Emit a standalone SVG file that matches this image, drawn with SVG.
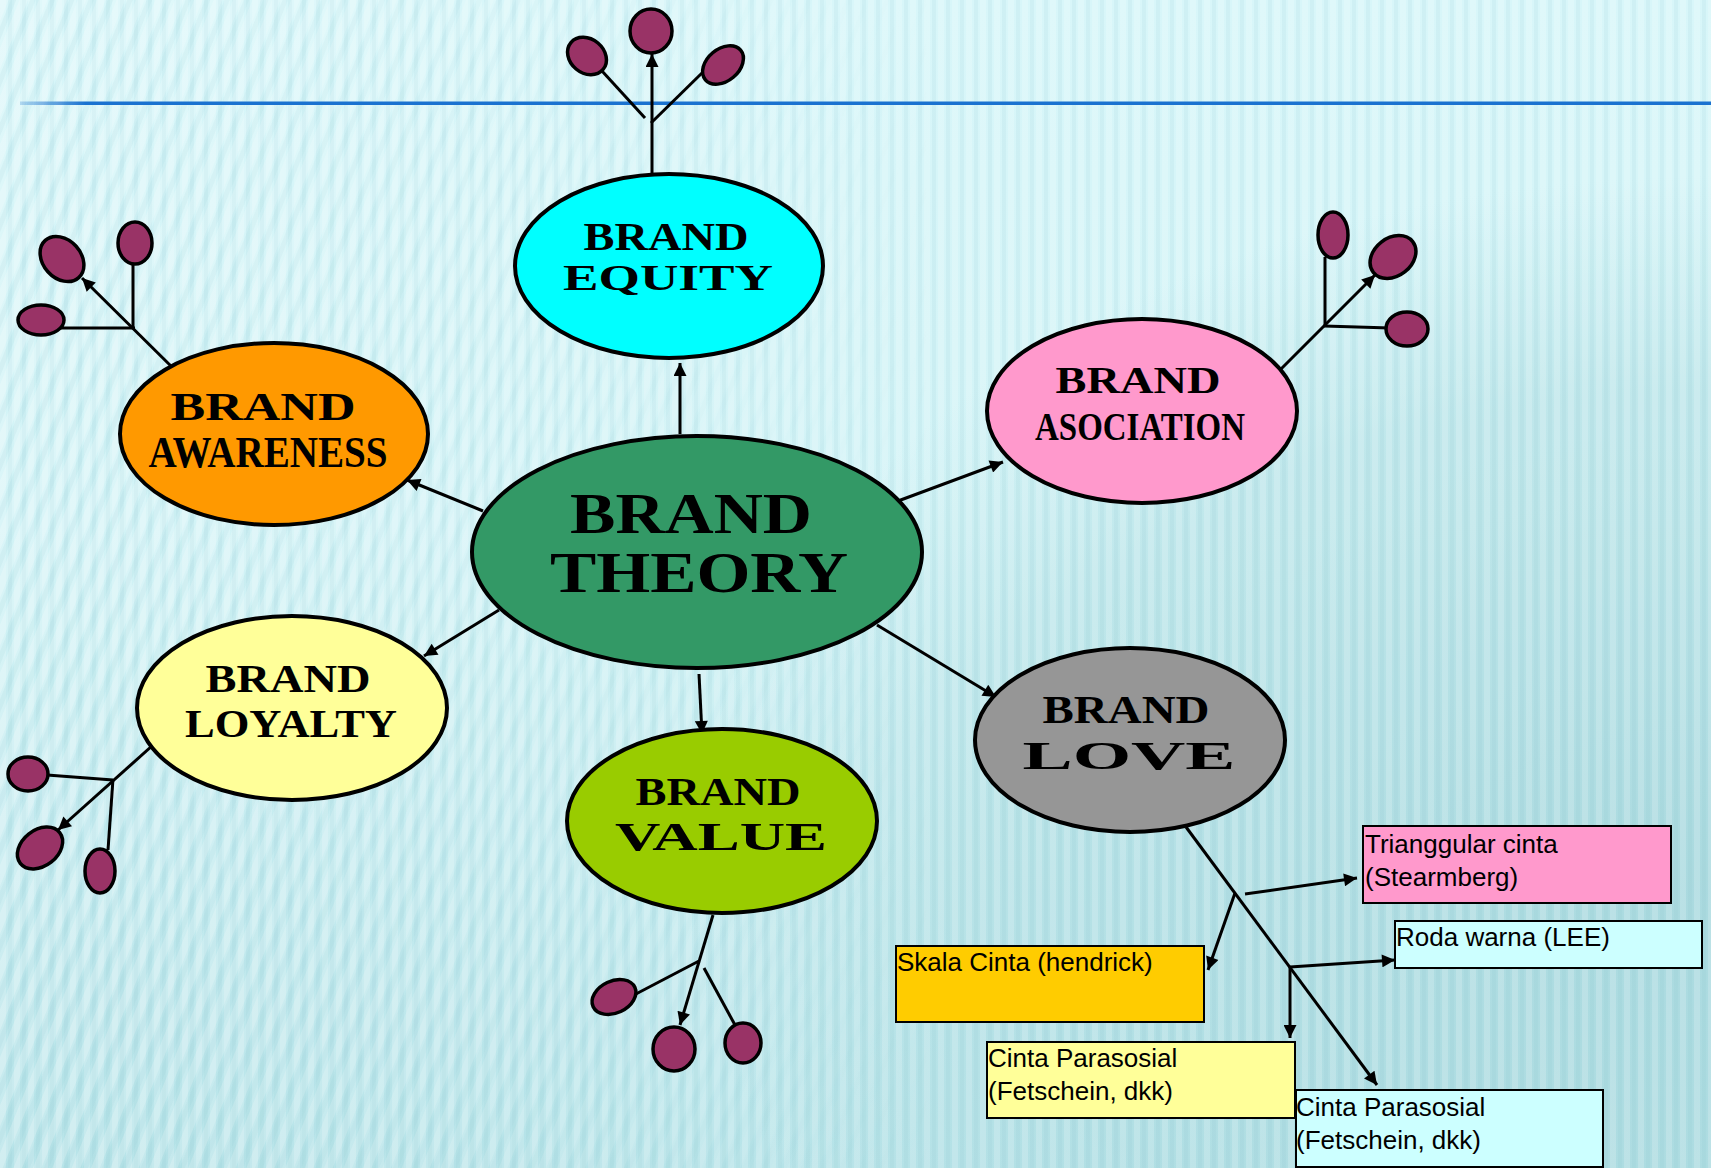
<svg xmlns="http://www.w3.org/2000/svg" width="1711" height="1168" viewBox="0 0 1711 1168">
<defs>
<linearGradient id="bg" x1="0" y1="0" x2="0" y2="1">
<stop offset="0" stop-color="#d8f6f9"/>
<stop offset="0.45" stop-color="#d2f3f6"/>
<stop offset="1" stop-color="#b8e4e9"/>
</linearGradient>
<radialGradient id="rdark" cx="1" cy="0.75" r="0.6">
<stop offset="0" stop-color="#9fd2d8" stop-opacity="0.7"/>
<stop offset="0.7" stop-color="#a8d8dd" stop-opacity="0.45"/>
<stop offset="1" stop-color="#a8d8dd" stop-opacity="0"/>
</radialGradient>
<pattern id="vstripes" width="14" height="20" patternUnits="userSpaceOnUse">
<rect x="0" y="0" width="6" height="20" fill="#ffffff" opacity="0.18"/>
<rect x="8" y="0" width="4" height="20" fill="#7fbfc6" opacity="0.10"/>
</pattern>
<pattern id="dstripes" width="18" height="20" patternUnits="userSpaceOnUse" patternTransform="rotate(22)">
<rect x="0" y="0" width="8" height="20" fill="#ffffff" opacity="0.22"/>
<rect x="10" y="0" width="5" height="20" fill="#7fbfc6" opacity="0.09"/>
</pattern>
<linearGradient id="fadeL" x1="0" y1="0" x2="1" y2="0">
<stop offset="0" stop-color="#fff" stop-opacity="1"/>
<stop offset="0.3" stop-color="#fff" stop-opacity="0.6"/>
<stop offset="0.55" stop-color="#fff" stop-opacity="0"/>
</linearGradient>
<mask id="leftMask"><rect x="0" y="0" width="1711" height="1168" fill="url(#fadeL)"/></mask>
<linearGradient id="blueLine" gradientUnits="userSpaceOnUse" x1="0" y1="0" x2="1711" y2="0">
<stop offset="0" stop-color="#1a72d0" stop-opacity="0"/>
<stop offset="0.05" stop-color="#1a72d0" stop-opacity="1"/>
<stop offset="1" stop-color="#1a72d0"/>
</linearGradient>
<marker id="arr" viewBox="0 0 10 10" refX="10" refY="5" markerWidth="16" markerHeight="13" markerUnits="userSpaceOnUse" orient="auto">
<path d="M0,0 L10,5 L0,10 Z" fill="#000"/>
</marker>
</defs>
<style>
.node{stroke:#000;stroke-width:4}
.leaf{fill:#993366;stroke:#000;stroke-width:3.5}
.lbl{font-family:"Liberation Serif","Times New Roman",serif;font-weight:bold;fill:#000;text-anchor:middle}
.box{stroke:#000;stroke-width:2}
.btxt{font-family:"Liberation Sans",Arial,sans-serif;font-size:26px;fill:#000}
.c{fill:none;stroke:#000;stroke-width:3}
.ca{fill:none;stroke:#000;stroke-width:3;marker-end:url(#arr)}
</style>

<g id="background">
<rect x="0" y="0" width="1711" height="1168" fill="url(#bg)"/>
<rect x="0" y="0" width="1711" height="1168" fill="url(#rdark)"/>
<rect x="0" y="0" width="1711" height="1168" fill="url(#vstripes)"/>
<rect x="0" y="0" width="1711" height="1168" fill="url(#dstripes)" mask="url(#leftMask)"/>
<rect x="20" y="101.5" width="1691" height="3.5" fill="url(#blueLine)"/>
</g>

<g id="connectors">
<line class="ca" x1="680" y1="434" x2="680" y2="363"/>
<line class="ca" x1="483" y1="511" x2="407" y2="480"/>
<line class="ca" x1="898" y1="501" x2="1003" y2="462"/>
<line class="ca" x1="499" y1="610" x2="424" y2="656"/>
<line class="ca" x1="699" y1="674" x2="702" y2="734"/>
<line class="ca" x1="877" y1="625" x2="996" y2="697"/>
<!-- equity leaves -->
<line class="ca" x1="652" y1="173" x2="652" y2="54"/>
<line class="c" x1="602" y1="71" x2="645" y2="118"/>
<line class="c" x1="703" y1="72" x2="651" y2="123"/>
<!-- awareness leaves -->
<line class="ca" x1="178" y1="373" x2="82" y2="278"/>
<line class="c" x1="133" y1="328" x2="133" y2="263"/>
<line class="c" x1="135" y1="328" x2="60" y2="328"/>
<!-- association leaves -->
<line class="ca" x1="1278" y1="372" x2="1375" y2="275"/>
<line class="c" x1="1325" y1="326" x2="1325" y2="257"/>
<line class="c" x1="1324" y1="326" x2="1390" y2="328"/>
<!-- loyalty leaves -->
<line class="ca" x1="162" y1="737" x2="58" y2="830"/>
<line class="c" x1="113" y1="780" x2="47" y2="775"/>
<line class="c" x1="113" y1="779" x2="108" y2="850"/>
<!-- value leaves -->
<line class="ca" x1="713" y1="915" x2="680" y2="1025"/>
<line class="c" x1="699" y1="961" x2="634" y2="995"/>
<line class="c" x1="704" y1="968" x2="735" y2="1025"/>
<!-- love branches -->
<line class="ca" x1="1186" y1="827" x2="1377" y2="1085"/>
<line class="ca" x1="1245" y1="894" x2="1357" y2="878"/>
<line class="ca" x1="1235" y1="893" x2="1208" y2="970"/>
<line class="ca" x1="1290" y1="967" x2="1395" y2="960"/>
<line class="ca" x1="1290" y1="967" x2="1290" y2="1038"/>
</g>

<g id="leaves-equity">
<ellipse class="leaf" cx="651" cy="31" rx="21" ry="22"/>
<ellipse class="leaf" cx="587" cy="56" rx="21" ry="17" transform="rotate(40 587 56)"/>
<ellipse class="leaf" cx="723" cy="65" rx="23" ry="16" transform="rotate(-40 723 65)"/>
</g>
<g id="leaves-awareness">
<ellipse class="leaf" cx="135" cy="243" rx="17" ry="21"/>
<ellipse class="leaf" cx="62" cy="259" rx="25" ry="19" transform="rotate(48 62 259)"/>
<ellipse class="leaf" cx="41" cy="320" rx="23" ry="15"/>
</g>
<g id="leaves-association">
<ellipse class="leaf" cx="1333" cy="235" rx="15" ry="23"/>
<ellipse class="leaf" cx="1393" cy="257" rx="25" ry="19" transform="rotate(-38 1393 257)"/>
<ellipse class="leaf" cx="1407" cy="329" rx="21" ry="17"/>
</g>
<g id="leaves-loyalty">
<ellipse class="leaf" cx="28" cy="774" rx="20" ry="17"/>
<ellipse class="leaf" cx="40" cy="848" rx="25" ry="18" transform="rotate(-38 40 848)"/>
<ellipse class="leaf" cx="100" cy="871" rx="15" ry="22"/>
</g>
<g id="leaves-value">
<ellipse class="leaf" cx="614" cy="997" rx="23" ry="16" transform="rotate(-25 614 997)"/>
<ellipse class="leaf" cx="674" cy="1049" rx="21" ry="22"/>
<ellipse class="leaf" cx="743" cy="1043" rx="18" ry="20"/>
</g>

<g id="node-equity">
<ellipse class="node" cx="669" cy="266" rx="154" ry="92" fill="#00ffff"/>
<text class="lbl" x="666" y="250" font-size="39" textLength="165" lengthAdjust="spacingAndGlyphs">BRAND</text>
<text class="lbl" x="668" y="290" font-size="35" textLength="210" lengthAdjust="spacingAndGlyphs">EQUITY</text>
</g>
<g id="node-awareness">
<ellipse class="node" cx="274" cy="434" rx="154" ry="91" fill="#ff9900"/>
<text class="lbl" x="263" y="420" font-size="41" textLength="185" lengthAdjust="spacingAndGlyphs">BRAND</text>
<text class="lbl" x="268" y="467" font-size="44" textLength="239" lengthAdjust="spacingAndGlyphs">AWARENESS</text>
</g>
<g id="node-association">
<ellipse class="node" cx="1142" cy="411" rx="155" ry="92" fill="#ff99cc"/>
<text class="lbl" x="1138" y="393" font-size="38" textLength="165" lengthAdjust="spacingAndGlyphs">BRAND</text>
<text class="lbl" x="1140" y="440" font-size="41" textLength="210" lengthAdjust="spacingAndGlyphs">ASOCIATION</text>
</g>
<g id="node-theory">
<ellipse class="node" cx="697" cy="552" rx="225" ry="116" fill="#339966"/>
<text class="lbl" x="691" y="533" font-size="56" textLength="242" lengthAdjust="spacingAndGlyphs">BRAND</text>
<text class="lbl" x="699" y="592" font-size="56" textLength="298" lengthAdjust="spacingAndGlyphs">THEORY</text>
</g>
<g id="node-loyalty">
<ellipse class="node" cx="292" cy="708" rx="155" ry="92" fill="#ffff99"/>
<text class="lbl" x="288" y="692" font-size="40" textLength="165" lengthAdjust="spacingAndGlyphs">BRAND</text>
<text class="lbl" x="291" y="737" font-size="40" textLength="212" lengthAdjust="spacingAndGlyphs">LOYALTY</text>
</g>
<g id="node-value">
<ellipse class="node" cx="722" cy="821" rx="155" ry="92" fill="#99cc00"/>
<text class="lbl" x="718" y="805" font-size="40" textLength="165" lengthAdjust="spacingAndGlyphs">BRAND</text>
<text class="lbl" x="721" y="850" font-size="40" textLength="212" lengthAdjust="spacingAndGlyphs">VALUE</text>
</g>
<g id="node-love">
<ellipse class="node" cx="1130" cy="740" rx="155" ry="92" fill="#969696"/>
<text class="lbl" x="1126" y="723" font-size="40" textLength="167" lengthAdjust="spacingAndGlyphs">BRAND</text>
<text class="lbl" x="1129" y="769" font-size="41" textLength="213" lengthAdjust="spacingAndGlyphs">LOVE</text>
</g>

<g id="box-trianggular">
<rect class="box" x="1363" y="826" width="308" height="77" fill="#ff99cc"/>
<text class="btxt" x="1365" y="853">Trianggular cinta</text>
<text class="btxt" x="1365" y="886">(Stearmberg)</text>
</g>
<g id="box-roda">
<rect class="box" x="1395" y="921" width="307" height="47" fill="#ccffff"/>
<text class="btxt" x="1396" y="946">Roda warna (LEE)</text>
</g>
<g id="box-skala">
<rect class="box" x="896" y="946" width="308" height="76" fill="#ffcc00"/>
<text class="btxt" x="897" y="971">Skala Cinta (hendrick)</text>
</g>
<g id="box-parasosial-1">
<rect class="box" x="987" y="1042" width="308" height="76" fill="#ffff99"/>
<text class="btxt" x="988" y="1067">Cinta Parasosial</text>
<text class="btxt" x="988" y="1100">(Fetschein, dkk)</text>
</g>
<g id="box-parasosial-2">
<rect class="box" x="1296" y="1090" width="307" height="77" fill="#ccffff"/>
<text class="btxt" x="1296" y="1116">Cinta Parasosial</text>
<text class="btxt" x="1296" y="1149">(Fetschein, dkk)</text>
</g>
</svg>
